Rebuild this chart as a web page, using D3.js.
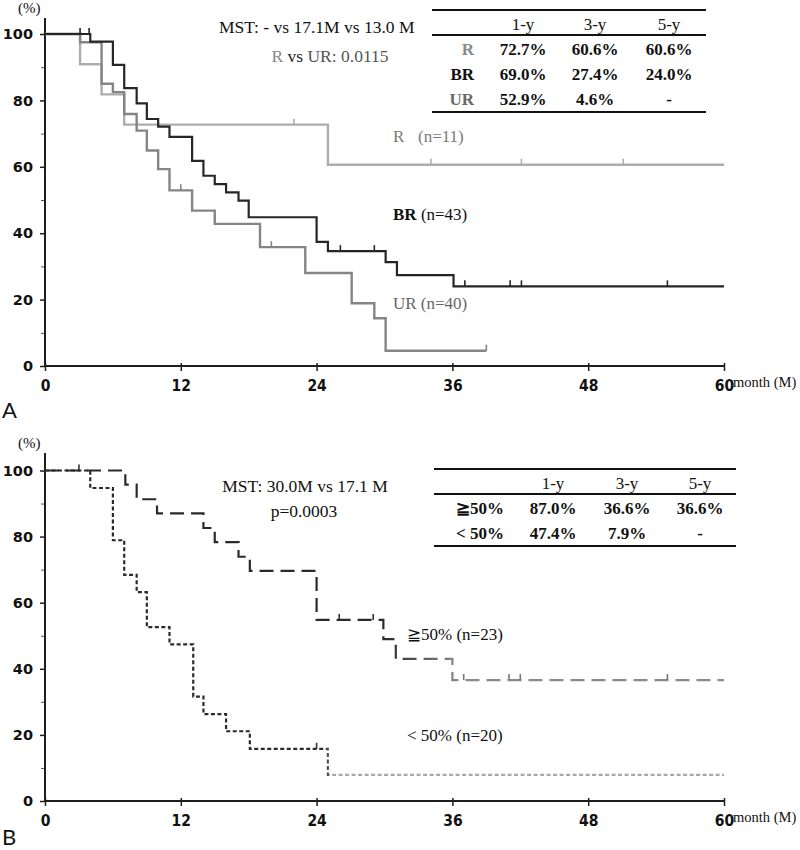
<!DOCTYPE html>
<html><head><meta charset="utf-8">
<script src="https://cdn.jsdelivr.net/npm/d3@7"></script>
<style>body{margin:0;background:#fff;} svg{display:block;}</style>
</head><body>
<svg id="chart" width="800" height="850"></svg>
<script>
// ---------- shared axis values ----------
const monthTicks = [0, 12, 24, 36, 48, 60];
const pctTicks = [0, 20, 40, 60, 80, 100];
const pctMinorTicks = [10, 30, 50, 70, 90];

// ---------- Panel A : R / BR / UR ----------
const rTimes = [0, 3.1, 5, 7, 25, 60];
const rSurv  = [100, 90.9, 81.8, 72.7, 60.6, 60.6];
const rCensor = [22, 34.1, 42.1, 51.1];

const brTimes = [0, 4, 6, 7, 8.1, 9, 10, 11, 13, 14, 15, 16, 17.1, 18, 24, 25, 30.1, 31.1, 36.1, 60];
const brSurv  = [100, 97.7, 90.7, 83.7, 79.1, 74.4, 72.1, 69.0, 61.8, 57.3, 54.8, 52.3, 49.8, 44.8, 37.4, 34.6, 31.3, 27.4, 24.0, 24.0];
const brCensor = [3.1, 3.9, 26.1, 29.1, 37.1, 41.1, 42.1, 55];

const urTimes = [0, 3.1, 5, 6, 7, 8.1, 9, 10, 11, 13, 15, 19, 23, 27.1, 29.1, 30.1, 39];
const urSurv  = [100, 97.5, 85, 82.5, 75.9, 70.9, 64.9, 59.3, 52.9, 46.8, 42.8, 35.8, 28.0, 18.9, 14.4, 4.6, 4.6];
const urCensor = [12, 20, 39];

const tableAHeader = ["1-y", "3-y", "5-y"];
const tableARows = ["R", "BR", "UR"];
const tableA1y = ["72.7%", "69.0%", "52.9%"];
const tableA3y = ["60.6%", "27.4%", "4.6%"];
const tableA5y = ["60.6%", "24.0%", "-"];

// ---------- Panel B : >=50% / <50% ----------
const hiTimes = [0, 7.1, 8.1, 9.9, 14, 15, 17.1, 18.1, 24, 29.9, 31, 36, 60];
const hiSurv  = [100, 95.7, 91.3, 87.0, 82.6, 78.3, 73.9, 69.6, 54.8, 49.0, 43.0, 36.6, 36.6];
const hiCensor = [26, 29, 37, 41, 42, 55];

const loTimes = [0, 4, 6, 7, 8.1, 9, 11, 13.1, 14, 16, 18.1, 25, 60];
const loSurv  = [100, 94.7, 78.9, 68.4, 63.2, 52.6, 47.4, 31.6, 26.3, 21.1, 15.8, 7.9, 7.9];
const loCensor = [3, 24];

const tableBHeader = ["1-y", "3-y", "5-y"];
const tableBRows = ["≧50%", "< 50%"];
const tableB1y = ["87.0%", "47.4%"];
const tableB3y = ["36.6%", "7.9%"];
const tableB5y = ["36.6%", "-"];

// ---------- drawing ----------
const svg = d3.select("#chart");
const serif = "'Liberation Serif','Times New Roman',serif";
const sans = "'DejaVu Sans',Verdana,sans-serif";
const ink = "#1e1e1e";

function survAt(times, surv, t) {
  let v = surv[0];
  for (let i = 0; i < times.length; i++) if (times[i] <= t) v = surv[i];
  return v;
}

function makePanel(yRange, axisTop, letter, letterY) {
  const g = svg.append("g");
  const x = d3.scaleLinear().domain([0, 60]).range([45, 724]);
  const y = d3.scaleLinear().domain([0, 100]).range(yRange);

  const yMaj = g.append("g").attr("transform", "translate(45,0)")
    .call(d3.axisLeft(y).tickValues(pctTicks).tickSize(5).tickSizeOuter(0).tickPadding(7));
  yMaj.select(".domain").remove();
  yMaj.selectAll("line").attr("stroke", ink).attr("stroke-width", 1.5);
  yMaj.selectAll("text").attr("font-family", sans).attr("font-weight", "bold")
    .attr("font-size", 14.5).attr("fill", "#111");

  const yMin = g.append("g").attr("transform", "translate(45,0)")
    .call(d3.axisLeft(y).tickValues(pctMinorTicks).tickSize(4).tickSizeOuter(0).tickFormat(""));
  yMin.select(".domain").remove();
  yMin.selectAll("line").attr("stroke", "#555").attr("stroke-width", 1);

  const xAx = g.append("g").attr("transform", `translate(0,${y(0)})`)
    .call(d3.axisBottom(x).tickValues(monthTicks).tickSize(5).tickSizeOuter(0));
  xAx.select(".domain").remove();
  xAx.selectAll("line").attr("y1", -3).attr("stroke", ink).attr("stroke-width", 1.5);
  xAx.selectAll("text").attr("y", 14).attr("dy", "0.71em")
    .attr("font-family", "'DejaVu Sans Condensed','DejaVu Sans',sans-serif")
    .attr("font-weight", "bold").attr("font-size", 15.5).attr("fill", "#111");

  g.append("line").attr("x1", 45).attr("x2", 45).attr("y1", y(0) + 1).attr("y2", axisTop)
    .attr("stroke", ink).attr("stroke-width", 2);
  g.append("line").attr("x1", 44).attr("x2", x(60)).attr("y1", y(0)).attr("y2", y(0))
    .attr("stroke", ink).attr("stroke-width", 2);

  g.append("text").attr("x", 733).attr("y", y(0) + 21).text("month (M)")
    .attr("font-family", serif).attr("font-size", 14.5).attr("fill", "#111");
  g.append("text").attr("x", 18).attr("y", axisTop - 5).text("(%)")
    .attr("font-family", serif).attr("font-size", 15).attr("fill", "#111");
  g.append("text").attr("x", 2).attr("y", letterY).text(letter)
    .attr("font-family", "Lato,'DejaVu Sans',sans-serif").attr("font-size", 22).attr("fill", "#111");
  return { g, x, y };
}

function drawCurve(p, times, surv, censor, stroke, width, dash) {
  const pts = times.map((t, i) => [t, surv[i]]);
  const line = d3.line().x(d => p.x(d[0])).y(d => p.y(d[1])).curve(d3.curveStepAfter);
  const path = p.g.append("path").datum(pts).attr("d", line).attr("fill", "none")
    .attr("stroke", stroke).attr("stroke-width", width).attr("stroke-linejoin", "miter");
  if (dash) path.attr("stroke-dasharray", dash);
  p.g.selectAll(null).data(censor).enter().append("line")
    .attr("x1", d => p.x(d)).attr("x2", d => p.x(d))
    .attr("y1", d => p.y(survAt(times, surv, d)))
    .attr("y2", d => p.y(survAt(times, surv, d)) - 6)
    .attr("stroke", stroke).attr("stroke-width", 1.6);
}

function drawTable(g, x0, x1, yTop, colX, header, rows, rowColors, rowLabelX, c1, c2, c3) {
  const ln = (yy) => g.append("line").attr("x1", x0).attr("x2", x1).attr("y1", yy).attr("y2", yy)
    .attr("stroke", "#111").attr("stroke-width", 2);
  ln(yTop); ln(yTop + 25); ln(yTop + 25 + rows.length * 25 + 2);
  header.forEach((h, i) => g.append("text").attr("x", colX[i]).attr("y", yTop + 20)
    .attr("text-anchor", "middle").attr("font-family", serif).attr("font-size", 17)
    .attr("fill", "#111").text(h));
  rows.forEach((r, j) => {
    const yy = yTop + 45 + j * 25;
    g.append("text").attr("x", rowLabelX).attr("y", yy).attr("text-anchor", "end")
      .attr("font-family", serif).attr("font-weight", "bold").attr("font-size", 17)
      .attr("fill", rowColors[j]).text(r);
    [c1[j], c2[j], c3[j]].forEach((v, i) => g.append("text").attr("x", colX[i]).attr("y", yy)
      .attr("text-anchor", "middle").attr("font-family", serif).attr("font-weight", "bold")
      .attr("font-size", 17).attr("fill", "#111").text(v));
  });
}

// ----- Panel A -----
const A = makePanel([366, 34], 18, "A", 418);
drawCurve(A, rTimes, rSurv, rCensor, "#adadad", 2.4);
drawCurve(A, urTimes, urSurv, urCensor, "#858585", 2.4);
drawCurve(A, brTimes, brSurv, brCensor, "#262626", 2.2);

A.g.append("text").attr("x", 219).attr("y", 33).attr("font-family", serif).attr("font-size", 17.5)
  .attr("fill", "#111").text("MST: - vs 17.1M vs 13.0 M");
const pA = A.g.append("text").attr("x", 330).attr("y", 62).attr("text-anchor", "middle")
  .attr("font-family", serif).attr("font-size", 17.5);
pA.append("tspan").attr("fill", "#8a8a8a").text("R");
pA.append("tspan").attr("fill", "#222").text(" vs ");
pA.append("tspan").attr("fill", "#555").text("UR: 0.0115");

drawTable(A.g, 432, 706, 10, [523, 595, 669], tableAHeader, tableARows,
  ["#8a8a8a", "#111", "#6a6a6a"], 474, tableA1y, tableA3y, tableA5y);

const lR = A.g.append("text").attr("x", 393).attr("y", 142).attr("font-family", serif)
  .attr("font-size", 17).attr("fill", "#7a7a7a");
lR.append("tspan").text("R");
lR.append("tspan").attr("x", 418).text("(n=11)");
const lBR = A.g.append("text").attr("x", 393).attr("y", 220).attr("font-family", serif)
  .attr("font-size", 17).attr("fill", "#111");
lBR.append("tspan").attr("font-weight", "bold").text("BR");
lBR.append("tspan").text(" (n=43)");
A.g.append("text").attr("x", 393).attr("y", 309).attr("font-family", serif)
  .attr("font-size", 17).attr("fill", "#666").text("UR (n=40)");

// ----- Panel B -----
const B = makePanel([801, 470.5], 453, "B", 845);
const defs = svg.append("defs");
const gHi = defs.append("linearGradient").attr("id", "gHi").attr("gradientUnits", "userSpaceOnUse")
  .attr("x1", B.x(0)).attr("x2", B.x(60)).attr("y1", 0).attr("y2", 0);
gHi.append("stop").attr("offset", 30 / 60).attr("stop-color", "#2a2a2a");
gHi.append("stop").attr("offset", 36.5 / 60).attr("stop-color", "#8a8a8a");
gHi.append("stop").attr("offset", 1).attr("stop-color", "#8a8a8a");
const gLo = defs.append("linearGradient").attr("id", "gLo").attr("gradientUnits", "userSpaceOnUse")
  .attr("x1", B.x(0)).attr("x2", B.x(60)).attr("y1", 0).attr("y2", 0);
gLo.append("stop").attr("offset", 24.8 / 60).attr("stop-color", "#2a2a2a");
gLo.append("stop").attr("offset", 25.4 / 60).attr("stop-color", "#a8a8a8");
gLo.append("stop").attr("offset", 1).attr("stop-color", "#a8a8a8");

drawCurve(B, loTimes, loSurv, loCensor, "url(#gLo)", 2.2, "4,2.5");
drawCurve(B, hiTimes, hiSurv, hiCensor, "url(#gHi)", 2.2, "14,7");
// censor ticks need solid colours (gradient on zero-width line fails)
B.g.selectAll("line").filter(function () { return (this.getAttribute("stroke") || "").startsWith("url"); })
  .attr("stroke", function () { return +this.getAttribute("x1") > B.x(30) ? "#777" : "#333"; });

B.g.append("text").attr("x", 305).attr("y", 492).attr("text-anchor", "middle")
  .attr("font-family", serif).attr("font-size", 17.5).attr("fill", "#111").text("MST: 30.0M vs 17.1 M");
B.g.append("text").attr("x", 304).attr("y", 517).attr("text-anchor", "middle")
  .attr("font-family", serif).attr("font-size", 17.5).attr("fill", "#111").text("p=0.0003");

drawTable(B.g, 434, 736, 469, [553, 627, 700], tableBHeader, tableBRows,
  ["#111", "#111"], 504, tableB1y, tableB3y, tableB5y);

B.g.append("text").attr("x", 407).attr("y", 640).attr("font-family", serif)
  .attr("font-size", 17).attr("fill", "#111").text("≧50% (n=23)");
B.g.append("text").attr("x", 407).attr("y", 741).attr("font-family", serif)
  .attr("font-size", 17).attr("fill", "#111").text("<  50% (n=20)");
</script>
</body></html>
